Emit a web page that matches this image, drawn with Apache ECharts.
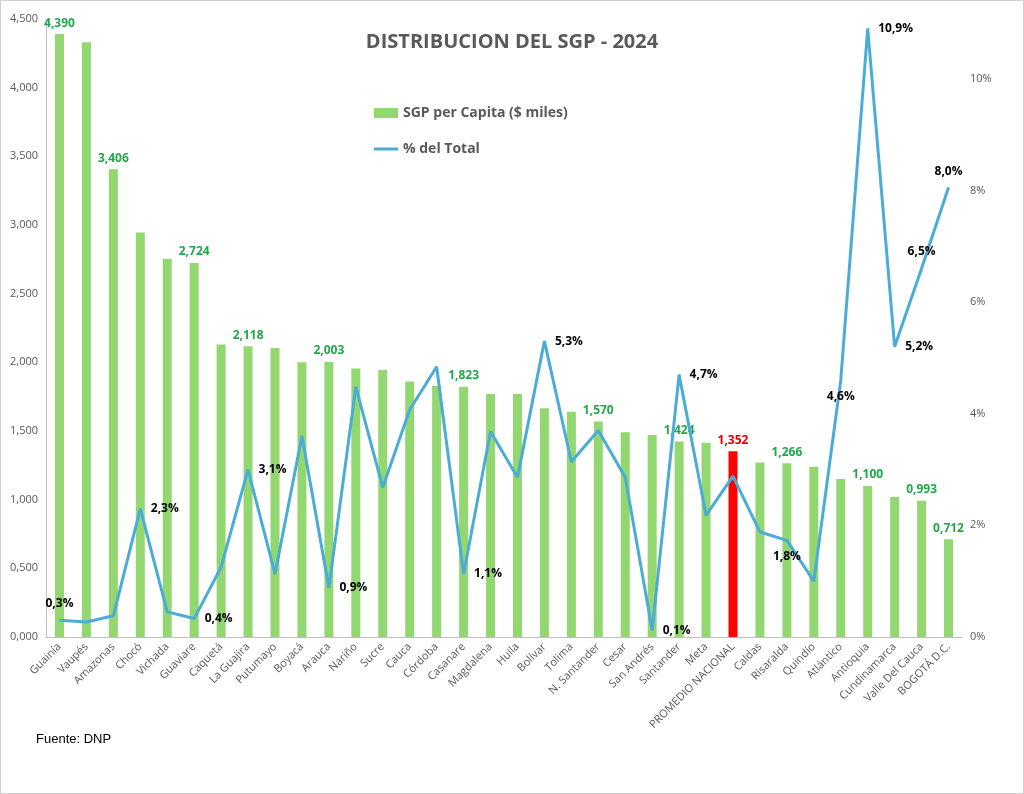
<!DOCTYPE html>
<html><head><meta charset="utf-8">
<script src="https://cdn.jsdelivr.net/npm/echarts@6/dist/echarts.min.js"></script>
<style>html,body{margin:0;background:#fff}#c{width:1022px;height:792px;border:1px solid #d0d0d0}</style>
</head><body><div id="c"></div>
<script>
var categories = ['Guainía','Vaupés','Amazonas','Chocó','Vichada','Guaviare','Caquetá','La Guajira','Putumayo','Boyacá','Arauca','Nariño','Sucre','Cauca','Córdoba','Casanare','Magdalena','Huila','Bolívar','Tolima','N. Santander','Cesar','San Andrés','Santander','Meta','PROMEDIO NACIONAL','Caldas','Risaralda','Quindío','Atlántico','Antioquia','Cundinamarca','Valle Del Cauca','BOGOTÁ D.C.'];
var sgpPerCapita = [4.390,4.330,3.406,2.945,2.755,2.724,2.130,2.118,2.105,2.000,2.003,1.955,1.945,1.860,1.830,1.823,1.770,1.770,1.665,1.640,1.570,1.490,1.470,1.424,1.415,1.352,1.270,1.266,1.240,1.150,1.100,1.020,0.993,0.712];
var barLabelShown = [1,0,1,0,0,1,0,1,0,0,1,0,0,0,0,1,0,0,0,0,1,0,0,1,0,1,0,1,0,0,1,0,1,1];
var pctTotal = [0.30,0.27,0.38,2.30,0.45,0.33,1.25,3.00,1.13,3.60,0.88,4.48,2.68,4.07,4.84,1.13,3.68,2.86,5.30,3.14,3.70,2.86,0.12,4.70,2.18,2.88,1.88,1.73,1.00,4.60,10.90,5.20,6.60,8.05];
var pctLabels = ['0,3%','','','2,3%','','0,4%','','3,1%','','','0,9%','','','','','1,1%','','','5,3%','','','','0,1%','4,7%','','','','1,8%','','4,6%','10,9%','5,2%','6,5%','8,0%'];
var pctLabelPos = {0: 'top', 22: 'right', 27: 'bottom', 29: 'bottom', 32: 'top', 33: 'top'};
var avgIndex = 25;

var barData = sgpPerCapita.map(function (v, i) {
    var red = i === avgIndex;
    return {
        value: v,
        itemStyle: {color: red ? '#ff0000' : '#92d76f'},
        label: {show: !!barLabelShown[i], color: red ? '#e00000' : '#21a84a'}
    };
});
var lineData = pctTotal.map(function (v, i) {
    return {value: v, label: {show: pctLabels[i] !== '', formatter: pctLabels[i], position: pctLabelPos[i] || 'right'}};
});

var chart = echarts.init(document.getElementById('c'));
chart.setOption({
    animation: false,
    textStyle: {fontFamily: 'Open Sans, Liberation Sans, sans-serif'},
    title: {text: 'DISTRIBUCION DEL SGP - 2024', left: 'center', top: 26,
        textStyle: {fontSize: 20, fontWeight: 'bold', color: '#595959'}},
    legend: {orient: 'vertical', left: 368, top: 100, itemGap: 22, itemWidth: 24, itemHeight: 10,
        textStyle: {fontSize: 14, fontWeight: 'bold', color: '#595959'},
        data: [{name: 'SGP per Capita ($ miles)', icon: 'rect'}, {name: '% del Total', icon: 'path://M0,4L24,4L24,7L0,7Z'}]},
    grid: {left: 45, right: 61, top: 18, bottom: 156},
    xAxis: {type: 'category', data: categories,
        axisTick: {show: false}, axisLine: {lineStyle: {color: '#bfbfbf'}},
        axisLabel: {rotate: 45, interval: 0, fontSize: 11, color: '#595959', margin: 8}},
    yAxis: [{type: 'value', min: 0, max: 4.5, interval: 0.5,
        splitLine: {show: false}, axisLine: {show: true, lineStyle: {color: '#bfbfbf'}},
        axisLabel: {fontSize: 11, color: '#595959', formatter: function (v) { return v.toFixed(3).replace('.', ','); }}},
        {type: 'value', min: 0, max: 11.07, interval: 2, splitLine: {show: false},
        axisLabel: {fontSize: 11, color: '#595959', showMaxLabel: false, formatter: function (v) { return v + '%'; }}}],
    series: [{name: 'SGP per Capita ($ miles)', type: 'bar', barWidth: 9, data: barData,
        itemStyle: {color: '#92d76f'},
        label: {position: 'top', fontSize: 12, fontWeight: 'bold',
            formatter: function (p) { return p.value.toFixed(3).replace('.', ','); }}},
        {name: '% del Total', type: 'line', yAxisIndex: 1, data: lineData, symbol: 'circle', symbolSize: 1,
        showSymbol: true,
        lineStyle: {color: '#4bacd6', width: 3}, itemStyle: {color: '#4bacd6'},
        label: {distance: 10, fontSize: 12, fontWeight: 'bold', color: '#000'}}],
    graphic: [{type: 'text', left: 35, top: 732, style: {text: 'Fuente: DNP', fontSize: 13, fill: '#000'}}]
});
</script></body></html>
